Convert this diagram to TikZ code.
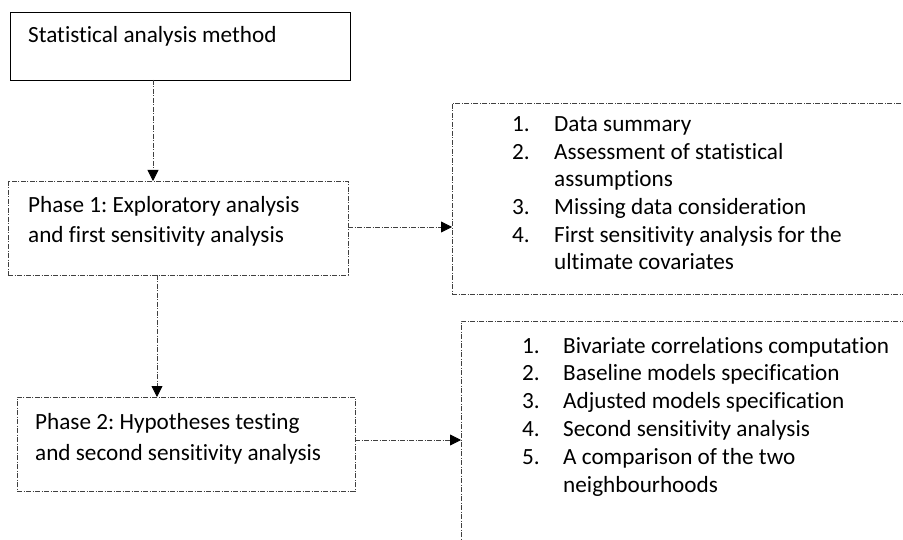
\documentclass[tikz,border=0pt]{standalone}
\usepackage{fontspec}
\setmainfont[Ligatures=NoCommon]{Carlito}
\usetikzlibrary{arrows.meta}
\frenchspacing
\begin{document}
\begin{tikzpicture}[x=1pt,y=-1pt,
  solidbox/.style={draw=black, line width=0.9pt, inner sep=0pt, outer sep=0pt, anchor=north west},
  dashbox/.style={draw=black!75, line width=0.8pt, dash pattern=on 5pt off 1.5pt on 1pt off 1.5pt, inner sep=0pt, outer sep=0pt, anchor=north west},
  conn/.style={draw=black!75, line width=0.8pt, dash pattern=on 5pt off 1.5pt on 1pt off 1.5pt, -{Triangle[length=11pt,width=11pt,color=black]}},
  txt/.style={anchor=base west, inner sep=0pt, font=\fontsize{23.2}{27}\selectfont},
  num/.style={anchor=base west, inner sep=0pt, font=\fontsize{23.2}{27}\selectfont}]
\useasboundingbox (0,0) rectangle (903,540);
\clip (0,0) rectangle (903,540);
% boxes
\node[solidbox, minimum width=340pt, minimum height=68pt] (top) at (10,12) {};
\node[dashbox, minimum width=340pt, minimum height=94pt] (p1) at (8,181) {};
\node[dashbox, minimum width=338pt, minimum height=94pt] (p2) at (17,397) {};
\node[dashbox, minimum width=480pt, minimum height=191pt] (l1) at (452,103) {};
\node[dashbox, minimum width=480pt, minimum height=260pt] (l2) at (461,321) {};
% texts
\node[txt] (ttop) at (28,43) {Statistical analysis method};
\node[txt] (tp1a) at (28,213) {Phase 1: Exploratory analysis};
\node[txt] (tp1b) at (28,243) {and first sensitivity analysis};
\node[txt] (tp2a) at (35,429) {Phase 2: Hypotheses testing};
\node[txt] (tp2b) at (35,460) {and second sensitivity analysis};
% list 1
\node[num] (n11) at (512,132) {1.};
\node[txt] (a11) at (554,132) {Data summary};
\node[num] (n12) at (512,160) {2.};
\node[txt] (a12) at (554,160) {Assessment of statistical};
\node[txt] (a12b) at (554,187) {assumptions};
\node[num] (n13) at (512,215) {3.};
\node[txt] (a13) at (554,215) {Missing data consideration};
\node[num] (n14) at (512,243) {4.};
\node[txt] (a14) at (554,243) {First sensitivity analysis for the};
\node[txt] (a14b) at (554,270) {ultimate covariates};
% list 2
\node[num] (n21) at (522,353) {1.};
\node[txt] (b21) at (563,353) {Bivariate correlations computation};
\node[num] (n22) at (522,381) {2.};
\node[txt] (b22) at (563,381) {Baseline models specification};
\node[num] (n23) at (522,408) {3.};
\node[txt] (b23) at (563,408) {Adjusted models specification};
\node[num] (n24) at (522,436) {4.};
\node[txt] (b24) at (563,436) {Second sensitivity analysis};
\node[num] (n25) at (522,464) {5.};
\node[txt] (b25) at (563,464) {A comparison of the two};
\node[txt] (b25b) at (563,492) {neighbourhoods};
% connectors
\draw[conn] ([xshift=143pt]top.south west) -- ([xshift=145pt]p1.north west);
\draw[conn] ([yshift=1pt]p1.east) -- ([yshift=1pt]p1.east -| l1.west);
\draw[conn] ([xshift=149pt]p1.south west) -- ([xshift=140pt]p2.north west);
\draw[conn] ([yshift=4pt]p2.east) -- ([yshift=4pt]p2.east -| l2.west);
\end{tikzpicture}
\end{document}
